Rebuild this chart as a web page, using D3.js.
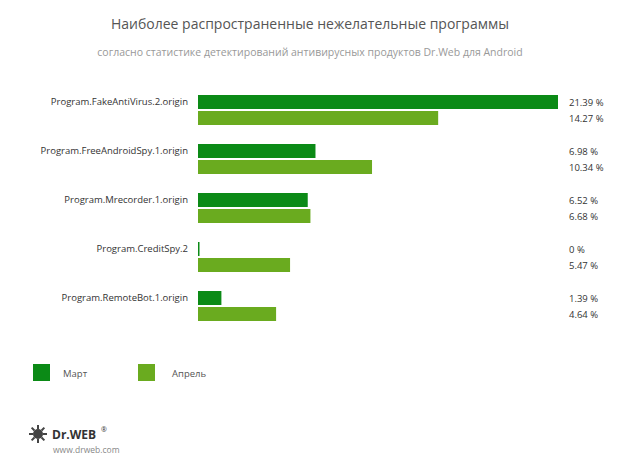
<!DOCTYPE html><html><head><meta charset="utf-8"><script src="https://cdn.jsdelivr.net/npm/d3@7"></script>
<style>body{margin:0;background:#fff}text{font-family:"Open Sans",sans-serif}</style></head><body><svg id="c" width="620" height="467"></svg>
<script>
const categories=["Program.FakeAntiVirus.2.origin","Program.FreeAndroidSpy.1.origin","Program.Mrecorder.1.origin","Program.CreditSpy.2","Program.RemoteBot.1.origin"];
const march=[21.39,6.98,6.52,0,1.39];
const april=[14.27,10.34,6.68,5.47,4.64];
const seriesNames=["Март","Апрель"];
const colors=["#0b8a16","#6aab1f"];
const svg=d3.select("#c");
const x=d3.scaleLinear().domain([0,21.39]).range([198,558]);
const y=d3.scaleBand().domain(categories).range([93,338]).paddingInner(0);
svg.append("text").attr("x",310).attr("y",29).attr("text-anchor","middle").attr("font-size",14).attr("fill","#555").text("Наиболее распространенные нежелательные программы");
svg.append("text").attr("x",310).attr("y",56).attr("text-anchor","middle").attr("font-size",10.5).attr("fill","#999").text("согласно статистике детектирований антивирусных продуктов Dr.Web для Android");
categories.forEach((c,i)=>{
  const y0=y(c)+2;
  svg.append("text").attr("x",188).attr("y",y0+10).attr("text-anchor","end").attr("font-size",9.5).attr("fill","#333").text(c);
  [march,april].forEach((s,j)=>{
    const yy=y0+j*16;
    svg.append("rect").attr("x",198).attr("y",yy).attr("width",Math.max(x(s[i])-198,s[i]===0?1.5:0)).attr("height",14).attr("fill",colors[j]);
    svg.append("text").attr("x",569).attr("y",yy+11).attr("font-size",9.5).attr("fill","#333").text(s[i]===0?"0 %":s[i].toFixed(2)+" %");
  });
});
const lg=[[33,63],[138,172]];
seriesNames.forEach((n,j)=>{
  svg.append("rect").attr("x",lg[j][0]).attr("y",364).attr("width",17).attr("height",17).attr("fill",colors[j]);
  svg.append("text").attr("x",lg[j][1]).attr("y",377).attr("font-size",9.5).attr("fill","#555").text(n);
});
const g=svg.append("g").attr("transform","translate(38,434)");
[0,45,90,135,180,225,270,315].forEach(a=>{const r=a*Math.PI/180;g.append("line").attr("x1",Math.cos(r)*5).attr("y1",Math.sin(r)*5).attr("x2",Math.cos(r)*9).attr("y2",Math.sin(r)*9).attr("stroke","#444").attr("stroke-width",2);});
g.append("circle").attr("r",5).attr("fill","#444");
svg.append("text").attr("x",52).attr("y",439).attr("font-size",12).attr("font-weight","bold").attr("fill","#333").text("Dr.WEB");
svg.append("text").attr("x",101).attr("y",432).attr("font-size",7).attr("fill","#333").text("®");
svg.append("text").attr("x",53).attr("y",453).attr("font-size",8.5).attr("fill","#888").text("www.drweb.com");
</script></body></html>
